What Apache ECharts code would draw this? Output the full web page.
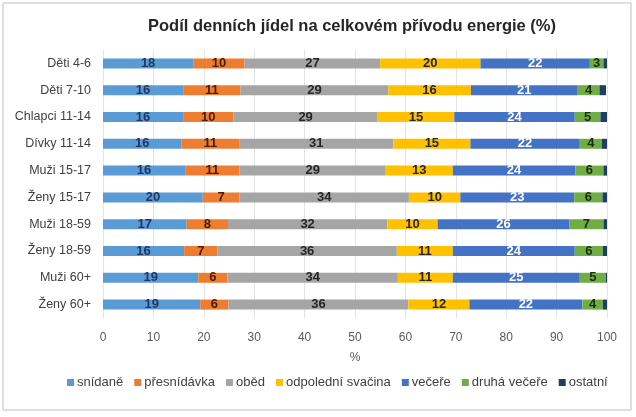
<!DOCTYPE html>
<html>
  <head>
    <meta charset="utf-8" />
    <title>Podíl denních jídel</title>
    <script src="https://cdn.jsdelivr.net/npm/echarts@6/dist/echarts.min.js"></script>
    <style type="text/css">
      body { margin: 0; background: #fff; }
    </style>
  </head>
  <body>
    <div id="main" style="width: 636px; height: 417px"></div>
    <script type="text/javascript">
      // skupiny (shora dolů)
      var categories = ["Děti 4-6", "Děti 7-10", "Chlapci 11-14", "Dívky 11-14", "Muži 15-17",
        "Ženy 15-17", "Muži 18-59", "Ženy 18-59", "Muži 60+", "Ženy 60+"];
      var xTicks = [0, 10, 20, 30, 40, 50, 60, 70, 80, 90, 100];

      // podíly v %
      var snidane     = [17.9, 15.9, 15.9, 15.6, 16.3, 19.8, 16.6, 16.1, 18.9, 19.3];
      var presnidavka = [10.2, 11.4, 10.0, 11.4, 10.8, 7.3, 8.2, 6.6, 5.8, 5.6];
      var obed        = [26.9, 29.3, 28.6, 30.6, 29.0, 33.6, 31.6, 35.6, 33.8, 35.7];
      var svacina     = [19.9, 16.4, 15.2, 15.3, 13.3, 10.2, 10.0, 11.1, 10.9, 12.1];
      var vecere      = [21.7, 21.2, 23.9, 21.7, 24.3, 22.6, 26.1, 24.2, 25.2, 22.4];
      var druhaVecere = [2.7, 4.3, 5.1, 4.4, 5.6, 5.6, 6.8, 5.6, 5.2, 4.1];
      var ostatni     = [0.7, 1.3, 1.3, 1.0, 0.7, 0.9, 0.7, 0.8, 0.2, 0.8];

      var seriesDefs = [
        { name: "snídaně", data: snidane, color: "#5B9BD5", text: "#1F3864" },
        { name: "přesnídávka", data: presnidavka, color: "#ED7D31", text: "#4a1c00" },
        { name: "oběd", data: obed, color: "#A5A5A5", text: "#262626" },
        { name: "odpolední svačina", data: svacina, color: "#FFC000", text: "#262626" },
        { name: "večeře", data: vecere, color: "#4472C4", text: "#ffffff" },
        { name: "druhá večeře", data: druhaVecere, color: "#70AD47", text: "#1a2e10" },
        { name: "ostatní", data: ostatni, color: "#1F3E64", text: "#262626", noLabel: true }
      ];

      var myChart = echarts.init(document.getElementById("main"));

      var series = seriesDefs.map(function (s) {
        return {
          name: s.name,
          type: "bar",
          stack: "celkem",
          data: s.data,
          barWidth: 10,
          itemStyle: { color: s.color },
          label: {
            show: !s.noLabel,
            position: "inside",
            color: s.text,
            fontWeight: "bold",
            fontSize: 13,
            fontFamily: "Liberation Sans",
            formatter: function (p) { return Math.round(p.value); }
          }
        };
      });

      var option = {
        animation: false,
        textStyle: { fontFamily: "Liberation Sans" },
        title: {
          text: "Podíl denních jídel na celkovém přívodu energie (%)",
          left: 143,
          top: 13,
          textStyle: { fontSize: 16.5, fontWeight: "bold", color: "#262626", fontFamily: "Liberation Sans" }
        },
        graphic: [{
          type: "rect",
          shape: { x: 3, y: 3, width: 628, height: 407 },
          style: { fill: "none", stroke: "#bfbfbf", lineWidth: 1 },
          silent: true
        }],
        legend: {
          bottom: 23,
          left: 62,
          icon: "rect",
          itemWidth: 7,
          itemHeight: 7,
          itemGap: 11,
          textStyle: { fontSize: 13, color: "#404040", padding: [0, 0, 0, -2] },
          data: seriesDefs.map(function (s) { return s.name; })
        },
        grid: { left: 103, right: 29, top: 50, bottom: 99 },
        xAxis: {
          type: "value",
          min: xTicks[0],
          max: xTicks[xTicks.length - 1],
          interval: 10,
          name: "%",
          nameLocation: "middle",
          nameGap: 34,
          nameTextStyle: { color: "#595959", fontSize: 12 },
          axisLine: { show: false },
          axisTick: { show: false },
          axisLabel: { color: "#595959", fontSize: 12, margin: 14 },
          splitLine: { lineStyle: { color: "#e3e3e3" } }
        },
        yAxis: {
          type: "category",
          inverse: true,
          data: categories,
          axisLine: { show: false },
          axisTick: { show: false },
          axisLabel: { color: "#404040", fontSize: 12.5, margin: 12 }
        },
        series: series
      };

      myChart.setOption(option);
    </script>
  </body>
</html>
